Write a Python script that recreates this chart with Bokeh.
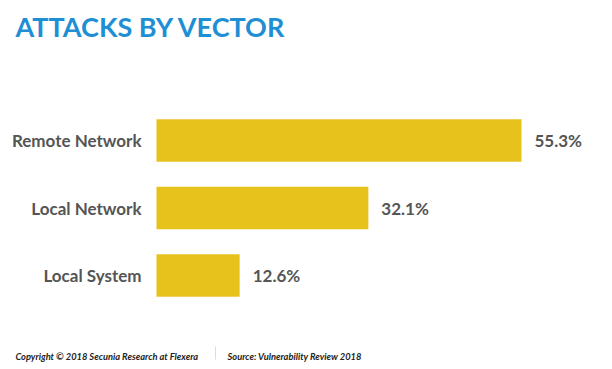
from bokeh.plotting import figure
from bokeh.models import Range1d, ColumnDataSource
from bokeh.core.properties import value
from bokeh.embed import file_html
from bokeh.resources import INLINE

categories = ["Remote Network", "Local Network", "Local System"]
values = [55.3, 32.1, 12.6]
value_labels = ["55.3%", "32.1%", "12.6%"]
title_text = "ATTACKS BY VECTOR"
footer_left = "Copyright \u00a9 2018 Secunia Research at Flexera"
footer_right = "Source: Vulnerability Review 2018"

W, H = 612, 369
X0 = 156.0      # pixel of value 0
SX = 6.6        # pixels per percent
Y0 = 140.0      # pixel of first bar centre
SY = 67.5       # pixels per category step

def fx(px):
    return (px - X0) / SX

def fy(px):
    return (px - Y0) / SY

p = figure(width=W, height=H, output_backend="svg", toolbar_location=None,
           x_range=Range1d(fx(0), fx(W)), y_range=Range1d(fy(H), fy(0)),
           min_border=0)
p.axis.visible = False
p.grid.visible = False
p.outline_line_color = None
p.background_fill_color = "white"
p.border_fill_color = "white"

idx = list(range(len(categories)))
src = ColumnDataSource(dict(y=idx, v=values, cat=categories, lab=value_labels))

p.hbar(y="y", left=0, right="v", height=0.63, source=src,
       fill_color="#E8C21C", line_color=None)

p.text(x=0, y="y", text="cat", source=src, x_offset=-15,
       text_align="right", text_baseline="middle",
       text_font=value("Lato"), text_font_style="bold",
       text_font_size="17px", text_color="#555555")

p.text(x="v", y="y", text="lab", source=src, x_offset=13,
       text_align="left", text_baseline="middle",
       text_font=value("Lato"), text_font_style="bold",
       text_font_size="17px", text_color="#555555")

# title
p.text(x=[fx(15)], y=[fy(26)], text=[title_text], text_align="left",
       text_baseline="alphabetic", text_font=value("Lato"),
       text_font_style="bold", text_font_size="27px", text_color="#1E8FD5")

# footer
p.text(x=[fx(15)], y=[fy(356)], text=[footer_left], text_align="left",
       text_baseline="alphabetic", text_font=value("Lato"),
       text_font_style="bold italic", text_font_size="9.3px", text_color="#222222")
p.text(x=[fx(227)], y=[fy(356)], text=[footer_right], text_align="left",
       text_baseline="alphabetic", text_font=value("Lato"),
       text_font_style="bold italic", text_font_size="9.3px", text_color="#222222")
p.segment(x0=[fx(215)], y0=[fy(346)], x1=[fx(215)], y1=[fy(359)],
          line_color="#dddddd", line_width=1)

open("out.html", "w").write(file_html(p, INLINE))
